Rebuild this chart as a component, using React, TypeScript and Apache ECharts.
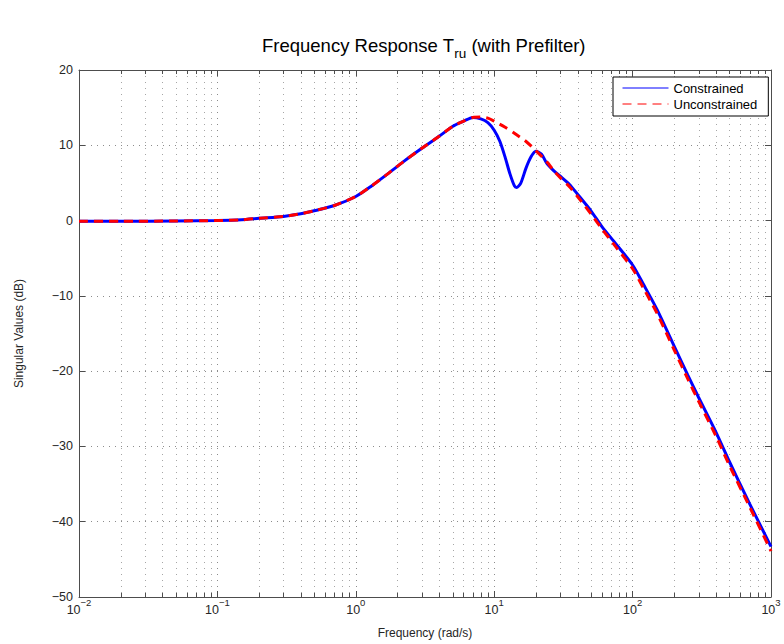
import React, { useEffect, useRef } from "react";
import * as echarts from "echarts";

// Constrained response (blue)
const C_FREQ = [0.01, 0.02, 0.05, 0.1, 0.15, 0.2, 0.3, 0.4, 0.5, 0.7, 1.0, 1.3, 1.7, 2.2, 3.0, 4.0, 5.0, 6.0, 7.0, 8.0, 9.0, 10, 11, 12, 13, 14, 14.5, 15.5, 17, 18.5, 20, 22, 24, 27, 30, 35, 40, 50, 60, 75, 100, 120, 150, 200, 250, 300, 400, 500, 700, 1000];
const C_DB = [-0.1, -0.1, -0.05, 0.0, 0.1, 0.3, 0.55, 0.9, 1.3, 2.0, 3.2, 4.6, 6.2, 7.8, 9.6, 11.2, 12.5, 13.2, 13.7, 13.5, 13.0, 12.0, 10.5, 8.4, 6.2, 4.6, 4.4, 4.9, 7.0, 8.5, 9.2, 8.8, 7.6, 6.6, 5.9, 4.8, 3.5, 1.3, -0.8, -3.0, -5.9, -8.5, -11.8, -16.7, -20.5, -23.5, -28.1, -32.0, -37.6, -43.3];

// Unconstrained response (red dashed)
const U_FREQ = [0.01, 0.02, 0.05, 0.1, 0.15, 0.2, 0.3, 0.4, 0.5, 0.7, 1.0, 1.3, 1.7, 2.2, 3.0, 4.0, 5.0, 6.0, 7.0, 8.0, 9.0, 10, 12, 14, 17, 20, 24, 27, 30, 35, 40, 50, 60, 75, 100, 120, 150, 200, 250, 300, 400, 500, 700, 1000];
const U_DB = [-0.1, -0.1, -0.05, 0.0, 0.1, 0.3, 0.55, 0.9, 1.3, 2.0, 3.2, 4.6, 6.2, 7.8, 9.6, 11.2, 12.5, 13.2, 13.7, 13.75, 13.6, 13.2, 12.4, 11.6, 10.5, 9.3, 7.8, 6.6, 5.7, 4.5, 3.2, 0.9, -1.1, -3.4, -6.4, -9.0, -12.3, -17.2, -21.0, -24.0, -28.6, -32.5, -38.0, -43.9];

const X_MIN = 0.01;
const X_MAX = 1000;
const Y_MIN = -50;
const Y_MAX = 20;
const Y_STEP = 10;

const SERIES_NAMES = ["Constrained", "Unconstrained"];
const TITLE_MAIN = "Frequency Response T";
const TITLE_SUB = "ru";
const TITLE_TAIL = " (with Prefilter)";
const X_NAME = "Frequency (rad/s)";
const Y_NAME = "Singular Values (dB)";

// minor log grid positions (2..9 x 10^n)
const MINOR_FREQS: number[] = [];
for (let e = -2; e <= 2; e++) {
  for (let k = 2; k <= 9; k++) MINOR_FREQS.push(k * Math.pow(10, e));
}

const FONT = "'Liberation Sans', Arial, Helvetica, sans-serif";
const AXIS_COLOR = "#4d4d4d";
const TEXT_COLOR = "#262626";

export default function App() {
  const ref = useRef<HTMLDivElement>(null);
  useEffect(() => {
    if (!ref.current) return;
    const chart = echarts.init(ref.current, undefined, { renderer: "svg" });
    const sup = (v: number) => {
      const e = Math.round(Math.log10(v));
      return `{b|10}{s|${e < 0 ? "\u2212" + Math.abs(e) : e}}`;
    };
    chart.setOption({
      animation: false,
      backgroundColor: "#fff",
      textStyle: { fontFamily: FONT },
      title: {
        text: `{a|${TITLE_MAIN}}{s|${TITLE_SUB}}{a|${TITLE_TAIL}}`,
        left: 257,
        top: 31,
        textStyle: {
          fontWeight: "normal",
          rich: {
            a: { fontSize: 18.5, lineHeight: 19, color: "#000", fontWeight: "normal", fontFamily: FONT },
            s: { fontSize: 13.5, lineHeight: 14, padding: [16, 0, 0, 0], color: "#000", fontWeight: "normal", fontFamily: FONT },
          },
        },
      },
      legend: {
        data: SERIES_NAMES,
        orient: "vertical",
        left: 613,
        top: 77,
        backgroundColor: "#fff",
        borderColor: "#000",
        borderWidth: 1,
        borderRadius: 0,
        padding: [4, 11, 5, 9],
        itemWidth: 46,
        itemHeight: 14,
        itemGap: 2,
        itemStyle: { opacity: 0 },
        lineStyle: { width: 1 },
        textStyle: { fontSize: 13, lineHeight: 14, color: "#000", fontFamily: FONT },
      },
      grid: { left: 79, right: 13, top: 70, bottom: 47 },
      xAxis: [
        {
          type: "log",
          logBase: 10,
          min: X_MIN,
          max: X_MAX,
          name: X_NAME,
          nameLocation: "middle",
          nameGap: 28,
          nameTextStyle: { fontSize: 12, color: TEXT_COLOR, fontFamily: FONT },
          axisLine: { show: true, onZero: false, lineStyle: { color: AXIS_COLOR, width: 1 } },
          axisTick: { show: true, inside: true, length: 6, lineStyle: { color: AXIS_COLOR } },
          axisLabel: {
            margin: 6,
            formatter: sup,
            rich: {
              b: { fontSize: 12.5, lineHeight: 13, color: TEXT_COLOR, fontFamily: FONT },
              s: { fontSize: 9.5, lineHeight: 10, padding: [0, 0, 15, 0], color: TEXT_COLOR, fontFamily: FONT },
            },
          },
          splitLine: { show: true, lineStyle: { color: "#8c8c8c", width: 1, type: [1, 5] } },
        },
        {
          type: "log",
          logBase: 10,
          min: X_MIN,
          max: X_MAX,
          position: "top",
          axisLine: { show: true, onZero: false, lineStyle: { color: AXIS_COLOR, width: 1 } },
          axisTick: { show: true, inside: true, length: 6, lineStyle: { color: AXIS_COLOR } },
          axisLabel: { show: false },
          splitLine: { show: false },
        },
      ],
      yAxis: [
        {
          type: "value",
          min: Y_MIN,
          max: Y_MAX,
          interval: Y_STEP,
          name: Y_NAME,
          nameLocation: "middle",
          nameGap: 54,
          nameTextStyle: { fontSize: 12, color: TEXT_COLOR, fontFamily: FONT },
          axisLine: { show: true, onZero: false, lineStyle: { color: AXIS_COLOR, width: 1 } },
          axisTick: { show: true, inside: true, length: 6, lineStyle: { color: AXIS_COLOR } },
          axisLabel: {
            margin: 6,
            fontSize: 12.5,
            color: TEXT_COLOR,
            fontFamily: FONT,
            formatter: (v: number) => (v < 0 ? "\u2212" + Math.abs(v) : String(v)),
          },
          splitLine: { show: true, lineStyle: { color: "#8c8c8c", width: 1, type: [1, 5] } },
        },
        {
          type: "value",
          min: Y_MIN,
          max: Y_MAX,
          interval: Y_STEP,
          position: "right",
          axisLine: { show: true, onZero: false, lineStyle: { color: AXIS_COLOR, width: 1 } },
          axisTick: { show: true, inside: true, length: 6, lineStyle: { color: AXIS_COLOR } },
          axisLabel: { show: false },
          splitLine: { show: false },
        },
      ],
      series: [
        {
          type: "custom",
          silent: true,
          z: 1,
          data: MINOR_FREQS.map((f) => [f, 0]),
          encode: { x: 0, y: 1 },
          renderItem: (params: any, api: any) => {
            const f = api.value(0);
            const top = api.coord([f, Y_MAX]);
            const bot = api.coord([f, Y_MIN]);
            const x = Math.round(top[0]) + 0.5;
            return {
              type: "group",
              children: [
                { type: "line", shape: { x1: x, y1: top[1], x2: x, y2: bot[1] }, style: { stroke: "#a6a6a6", lineWidth: 1, lineDash: [1, 5] } },
                { type: "line", shape: { x1: x, y1: bot[1], x2: x, y2: bot[1] - 4 }, style: { stroke: AXIS_COLOR, lineWidth: 1 } },
                { type: "line", shape: { x1: x, y1: top[1], x2: x, y2: top[1] + 4 }, style: { stroke: AXIS_COLOR, lineWidth: 1 } },
              ],
            };
          },
        },
        {
          name: SERIES_NAMES[0],
          type: "line",
          z: 3,
          data: C_FREQ.map((f, i) => [f, C_DB[i]]),
          showSymbol: false,
          symbol: "none",
          smooth: 0.25,
          lineStyle: { color: "#0000ff", width: 3 },
          itemStyle: { color: "#0000ff" },
        },
        {
          name: SERIES_NAMES[1],
          type: "line",
          z: 4,
          data: U_FREQ.map((f, i) => [f, U_DB[i]]),
          showSymbol: false,
          symbol: "none",
          smooth: 0.25,
          lineStyle: { color: "#ff0000", width: 3, type: [9, 6] },
          itemStyle: { color: "#ff0000" },
        },
      ],
    });
    return () => chart.dispose();
  }, []);
  return <div ref={ref} style={{ width: 784, height: 644, position: "absolute", left: 0, top: 0 }} />;
}
